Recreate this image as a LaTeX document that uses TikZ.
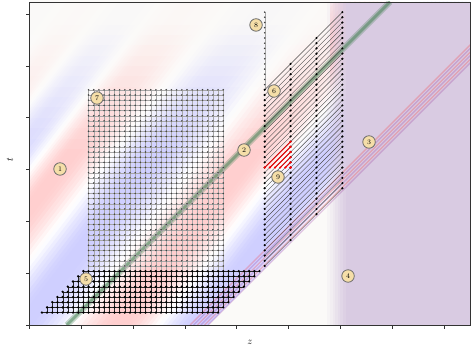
\documentclass[tikz,border=0pt]{standalone}
\usepackage{tikz}
\usetikzlibrary{calc}
\definecolor{lavender}{RGB}{217,203,226}
\definecolor{conegreen}{RGB}{70,130,85}
\definecolor{tagfill}{RGB}{245,222,168}
\definecolor{paper}{RGB}{251,250,248}
\tikzset{
  callout/.style   ={draw=gray!85!black,circle,fill=tagfill,inner sep=0pt,minimum size=12.5pt,line width=0.8pt,font=\scriptsize},
  conehalo/.style  ={line width=6pt,conegreen,opacity=0.3},
  lightcone/.style ={line width=2.8pt,conegreen,opacity=0.5},
  edgestripe/.style={line width=1.4pt,opacity=0.2},
  gridline/.style  ={gray!70,line width=0.3pt},
  griddot/.style   ={fill=gray!50!black},
  blackline/.style ={black!85,line width=0.3pt},
  hatchline/.style ={black!70,line width=0.4pt},
  redline/.style   ={red!90!black,line width=1pt},
  frame/.style     ={black!80,line width=0.8pt}
}

\begin{document}
\begin{tikzpicture}[x=51.8pt,y=51.8pt]
  \useasboundingbox (-0.5695,-0.4826) rectangle (8.542,6.274);
  \fill[paper] (0,0) rectangle (8.52,6.236);

  % wave field, phase fronts t = 1.3 (z - w)
  \begin{scope}
    \clip (0,0) -- (3.45,0) -- (8.52,5.07) -- (8.52,6.236) -- (0,6.236) -- cycle;
    \foreach \wa/\wb/\pa in {-5.6/-4.6/-6, -4.6/-3.73/-5, -3.73/-2.85/-4, -2.85/-1.75/-3,
                             -1.75/-0.13/-2, -0.13/1.75/-1, 1.75/3.25/0, 3.25/4.7/1}{
      \foreach \sub in {0,...,19}{
        \pgfmathsetmacro\wlo{\wa+(\wb-\wa)*\sub/20}
        \pgfmathsetmacro\whi{\wa+(\wb-\wa)*(\sub+1.3)/20}
        \pgfmathsetmacro\wmid{\wa+(\wb-\wa)*(\sub+0.5)/20}
        \pgfmathsetmacro\bandval{20*max(0.2,min(1,1+0.27*(\wmid+2)))*cos(180*(\pa+(\sub+0.5)/20))}
        \pgfmathtruncatemacro\bandpct{abs(\bandval)}
        \ifdim\bandval pt>0pt \def\bandhue{red}\else\def\bandhue{blue}\fi
        \fill[\bandhue!\bandpct!white] (\wlo,0) -- (\whi,0) -- ({\whi+4.85},6.3) -- ({\wlo+4.85},6.3) -- cycle;
      }
    }
  \end{scope}

  % fade towards the top
  \foreach \i in {0,...,14}{
    \pgfmathsetmacro\fadeop{min(0.95,0.075*(\i+1))}
    \fill[paper,opacity=\fadeop] (0,{3.4+0.2*\i}) rectangle (5.8,{3.6+0.2*\i});
  }

  % right-hand region
  \foreach \i in {0,...,7}{
    \pgfmathsetmacro\fadeop{(\i+1)/8}
    \fill[lavender,opacity=\fadeop] ({5.75+0.05*\i},0) rectangle ({5.8+0.05*\i},6.236);
  }
  \fill[lavender] (6.15,0) rectangle (8.52,6.236);

  \begin{scope}
    \clip (0,0) rectangle (8.52,6.236);
    \foreach \u/\c in {3.10/red, 3.17/violet, 3.24/red, 3.31/violet, 3.38/red, 3.45/violet}
      \draw[edgestripe,\c] (\u,0) -- ({\u+6.3},6.3);
    \draw[conehalo] (0.72,0) -- (6.96,6.24);
    \draw[lightcone] (0.72,0) -- (6.96,6.24);
  \end{scope}

  % coarse grid
  \foreach \i in {0,...,26}
    \draw[gridline] ({1.14+0.1*\i},1.04) -- ({1.14+0.1*\i},4.54);
  \foreach \j in {0,...,35}
    \draw[gridline] (1.14,{1.04+0.1*\j}) -- (3.74,{1.04+0.1*\j});
  \foreach \i in {0,...,26}
    \foreach \j in {1,...,35}
      \fill[griddot] ({1.14+0.1*\i},{1.04+0.1*\j}) circle (0.85pt);

  % sheared grid
  \foreach \c in {0,...,42}{
    \pgfmathtruncatemacro\jlo{max(0,\c-34)}
    \pgfmathtruncatemacro\jhi{min(8,\c)}
    \draw[blackline] ({0.24+0.1*\c},{0.24+0.1*\jlo}) -- ({0.24+0.1*\c},{0.24+0.1*\jhi});
  }
  \foreach \j in {0,...,8}{
    \draw[blackline] ({0.24+0.1*\j},{0.24+0.1*\j}) -- ({3.64+0.1*\j},{0.24+0.1*\j});
    \foreach \i in {0,...,34}
      \fill ({0.24+0.1*(\i+\j)},{0.24+0.1*\j}) circle (1.3pt);
  }

  % single column
  \draw[gridline] (4.54,4.54) -- (4.54,6.04);
  \foreach \k in {1,...,15}
    \fill[griddot] (4.54,{4.54+0.1*\k}) circle (0.85pt);

  % characteristics
  \foreach \k in {0,...,34}
    \draw[hatchline] (4.54,{4.54-0.1*\k}) -- (6.04,{6.04-0.1*\k});
  \foreach \c in {0,...,3}{
    \pgfmathsetmacro\zc{4.54+0.5*\c}
    \foreach \k in {0,...,34}
      \fill (\zc,{\zc-0.1*\k}) circle (1.2pt);
  }

  % domain of dependence
  \foreach \k in {15,...,19}
    \draw[redline] ({3.04+0.1*\k},3.04) -- (5.04,{5.04-0.1*\k});
  \foreach \k in {0,...,5}{
    \fill[red] ({4.54+0.1*\k},3.04) circle (1.2pt);
    \fill[red] (5.04,{3.04+0.1*\k}) circle (1.2pt);
  }

  % axes
  \draw[frame] (0,0) rectangle (8.52,6.236);
  \foreach \z in {0,...,8}
    \draw[frame] (\z,0) -- ++(0,-4pt);
  \foreach \t in {0,...,6}
    \draw[frame] (0,\t) -- ++(-4pt,0);
  \node (zlabel) at (4.257,-0.33) {$z$};
  \node[rotate=90] (tlabel) at (-0.376,3.185) {$t$};

  \node[callout] (c1) at (0.589,3.012) {1};
  \node[callout] (c2) at (4.141,3.378) {2};
  \node[callout] (c3) at (6.554,3.533) {3};
  \node[callout] (c4) at (6.149,0.946) {4};
  \node[callout] (c5) at (1.091,0.888) {5};
  \node[callout] (c6) at (4.720,4.517) {6};
  \node[callout] (c7) at (1.303,4.382) {7};
  \node[callout] (c8) at (4.373,5.792) {8};
  \node[callout] (c9) at (4.797,2.857) {9};
\end{tikzpicture}
\end{document}
